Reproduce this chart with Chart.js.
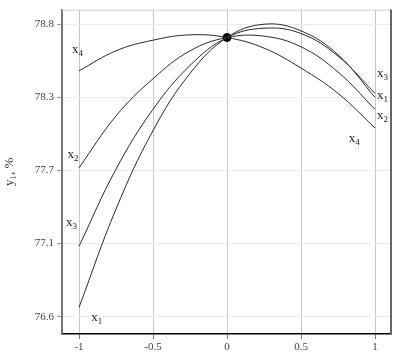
<!DOCTYPE html>
<html>
<head>
<meta charset="utf-8">
<script src="https://cdn.jsdelivr.net/npm/chart.js@4"></script>
<style>
  html, body { margin: 0; padding: 0; background: #fff; }
  #wrap { width: 397px; height: 364px; }
</style>
</head>
<body>
<div id="wrap"><canvas id="chart"></canvas></div>
<script>
// values
const xs = [-1, -0.75, -0.5, -0.25, 0, 0.25, 0.5, 0.75, 1];
const x1 = [76.67, 77.41, 78.00, 78.43, 78.70, 78.80, 78.75, 78.57, 78.25];
const x2 = [77.72, 78.11, 78.39, 78.60, 78.70, 78.71, 78.63, 78.44, 78.16];
const x3 = [77.13, 77.71, 78.16, 78.49, 78.70, 78.77, 78.73, 78.56, 78.28];
const x4 = [78.45, 78.60, 78.68, 78.72, 78.70, 78.62, 78.47, 78.28, 78.02];
const centre = [0, 78.70];

const xTicks = [-1, -0.5, 0, 0.5, 1];
const yTicks = [76.6, 77.15, 77.7, 78.25, 78.8];
const yTickLabels = ['76.6', '77.1', '77.7', '78.3', '78.8'];

// curve names and where they sit (data units)
const curveNames = ['4', '2', '3', '1', '3', '1', '2', '4'];
const nameX = [-1.01, -1.04, -1.05, -0.88, 1.05, 1.05, 1.05, 0.86];
const nameY = [78.61, 77.82, 77.31, 76.59, 78.43, 78.26, 78.11, 77.94];

const serif = "'Liberation Serif', 'DejaVu Serif', serif";

function pts(ys) {
    return xs.map((x, i) => ({x: x, y: ys[i]}));
}
function curve(ys) {
    return {
        data: pts(ys),
        borderColor: '#2a2a2a',
        borderWidth: 1,
        pointRadius: 0,
        tension: 0.4,
        fill: false
    };
}

const frame = {
    id: 'frame',
    afterDraw(chart) {
        const a = chart.chartArea, ctx = chart.ctx;
        ctx.save();
        ctx.strokeStyle = '#cfcfcf';
        ctx.lineWidth = 1;
        ctx.beginPath();
        ctx.moveTo(a.left, a.top + 0.5);
        ctx.lineTo(a.right, a.top + 0.5);
        ctx.stroke();
        ctx.strokeStyle = '#666';
        ctx.lineWidth = 2;
        ctx.beginPath();
        ctx.moveTo(a.right, a.top);
        ctx.lineTo(a.right, a.bottom);
        ctx.stroke();
        ctx.restore();
    }
};

const names = {
    id: 'names',
    afterDatasetsDraw(chart) {
        const ctx = chart.ctx, sx = chart.scales.x, sy = chart.scales.y;
        ctx.save();
        ctx.fillStyle = '#222';
        ctx.textBaseline = 'middle';
        curveNames.forEach((n, i) => {
            const px = sx.getPixelForValue(nameX[i]);
            const py = sy.getPixelForValue(nameY[i]);
            ctx.font = '13px ' + serif;
            ctx.textAlign = 'right';
            ctx.fillText('x', px + 1, py);
            ctx.font = '9px ' + serif;
            ctx.textAlign = 'left';
            ctx.fillText(n, px + 1, py + 4);
        });
        ctx.restore();
    }
};

new Chart(document.getElementById('chart'), {
    type: 'line',
    data: {
        datasets: [
            curve(x1),
            curve(x2),
            curve(x3),
            curve(x4),
            {
                type: 'scatter',
                data: [{x: centre[0], y: centre[1]}],
                pointRadius: 4,
                pointBackgroundColor: '#000',
                pointBorderColor: '#000'
            }
        ]
    },
    options: {
        responsive: true,
        maintainAspectRatio: false,
        animation: false,
        layout: { padding: { left: 0, top: 7, right: 6, bottom: 0 } },
        plugins: {
            legend: { display: false },
            tooltip: { enabled: false }
        },
        scales: {
            x: {
                type: 'linear',
                min: -1.115,
                max: 1.108,
                afterBuildTicks: (s) => { s.ticks = xTicks.map(v => ({value: v})); },
                afterFit: (s) => { s.height = 30; },
                ticks: {
                    color: '#444',
                    font: { family: serif, size: 11 },
                    padding: 2,
                    maxRotation: 0,
                    callback: (v) => String(v)
                },
                grid: { color: '#c8c8c8', tickLength: 5, tickColor: '#777' },
                border: { color: '#000', width: 1.5 }
            },
            y: {
                type: 'linear',
                min: 76.47,
                max: 78.91,
                afterBuildTicks: (s) => { s.ticks = yTicks.map(v => ({value: v})); },
                afterFit: (s) => { s.width = 62; },
                ticks: {
                    color: '#444',
                    font: { family: serif, size: 11 },
                    padding: 3,
                    callback: (v) => yTickLabels[yTicks.indexOf(v)]
                },
                title: {
                    display: true,
                    text: 'y₁, %',
                    color: '#333',
                    font: { family: serif, size: 13 },
                    padding: { top: 2, bottom: 0 }
                },
                grid: { color: '#ececec', tickLength: 5, tickColor: '#999' },
                border: { color: '#777', width: 2 }
            }
        }
    },
    plugins: [frame, names]
});
</script>
</body>
</html>
